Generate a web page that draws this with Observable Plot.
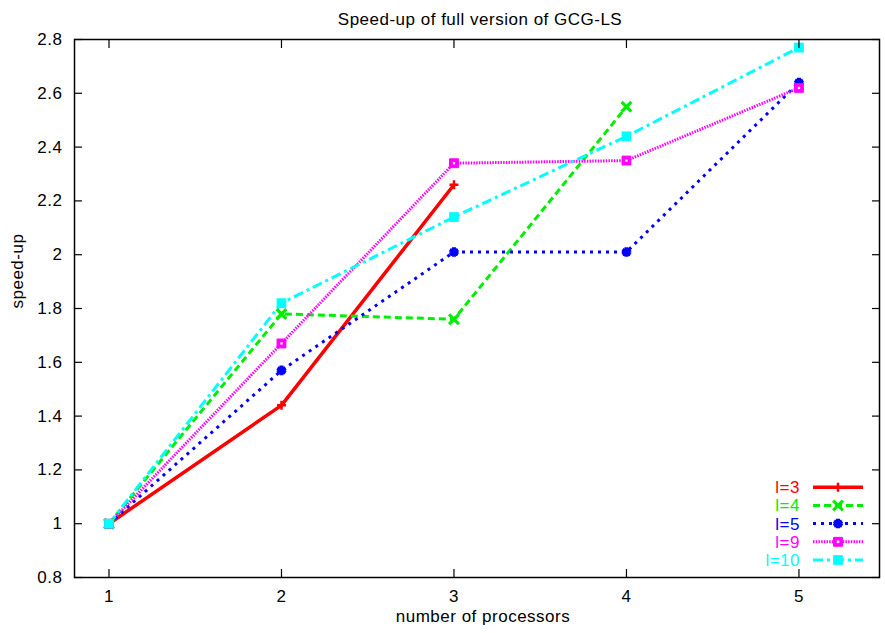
<!DOCTYPE html>
<html>
<head>
<meta charset="utf-8">
<script src="https://cdn.jsdelivr.net/npm/d3@7"></script>
<script src="https://cdn.jsdelivr.net/npm/@observablehq/plot@0.6"></script>
<style>
  html, body { margin: 0; padding: 0; background: #fff; }
  #chart svg { display: block; }
</style>
</head>
<body>
<div id="chart"></div>
<script>
// ---- Data ----
const processors = [1, 2, 3, 4, 5];
const seriesNames = ["l=3", "l=4", "l=5", "l=9", "l=10"];
const speedupL3  = [1, 1.44, 2.26];
const speedupL4  = [1, 1.78, 1.76, 2.55];
const speedupL5  = [1, 1.57, 2.01, 2.01, 2.64];
const speedupL9  = [1, 1.67, 2.34, 2.35, 2.62];
const speedupL10 = [1, 1.82, 2.14, 2.44, 2.77];
const xTicks = [1, 2, 3, 4, 5];
const yTicks = [0.8, 1, 1.2, 1.4, 1.6, 1.8, 2, 2.2, 2.4, 2.6, 2.8];
const titleText = "Speed-up of full version of GCG-LS";
const xLabel = "number of processors";
const yLabel = "speed-up";

// ---- Styles ----
const styles = [
  {color: "#ff0000", dash: null,        width: 3.5, symbol: "plus",     r: 3,   sw: 2.5},
  {color: "#00ee00", dash: "7,4",       width: 3,   symbol: "times",    r: 4.5, sw: 3.2},
  {color: "#0000ff", dash: "3,5",       width: 3,   symbol: "asterisk", r: 4.5, sw: 4},
  {color: "#ff00ff", dash: "1.5,1.2",   width: 3,   symbol: "square",   r: 5,   sw: 1},
  {color: "#00ffff", dash: "10,4,3,4",  width: 3,   symbol: "square",   r: 5.5, sw: 1}
];
const allValues = [speedupL3, speedupL4, speedupL5, speedupL9, speedupL10];

const rows = allValues.map((vals, i) =>
  vals.map((v, j) => ({series: seriesNames[i], x: processors[j], y: v})));

const font = "'Liberation Sans', Arial, Helvetica, sans-serif";

const marks = [];
rows.forEach((data, i) => {
  const s = styles[i];
  marks.push(Plot.line(data, {x: "x", y: "y", stroke: s.color, strokeWidth: s.width,
    strokeDasharray: s.dash, strokeLinejoin: "miter", strokeLinecap: "butt"}));
});
rows.forEach((data, i) => {
  const s = styles[i];
  if (i === 3) {
    marks.push(Plot.dot(data, {x: "x", y: "y", symbol: "square", r: s.r, fill: s.color, stroke: s.color, strokeWidth: 1}));
    marks.push(Plot.dot(data, {x: "x", y: "y", symbol: "square", r: 1.3, fill: "white", stroke: "none"}));
  } else if (i === 4) {
    marks.push(Plot.dot(data, {x: "x", y: "y", symbol: "square", r: s.r, fill: s.color, stroke: "none"}));
  } else {
    marks.push(Plot.dot(data, {x: "x", y: "y", symbol: s.symbol, r: s.r, stroke: s.color, strokeWidth: s.sw, fill: "none"}));
  }
});

const chart = Plot.plot({
  width: 885,
  height: 633,
  marginLeft: 74,
  marginRight: 6,
  marginTop: 39,
  marginBottom: 56,
  style: {fontFamily: font, fontSize: "17px", background: "white", color: "black", letterSpacing: "0.5px"},
  x: {domain: [0.8, 5.467], axis: null},
  y: {domain: [0.8, 2.8], axis: null},
  marks: [
    ...marks,
    Plot.frame({stroke: "black", strokeWidth: 1.5}),
    Plot.axisX(xTicks, {anchor: "bottom", tickSize: -8, tickPadding: 20, tickFormat: d => String(d), label: null, stroke: "black", strokeWidth: 1.2, fontSize: 17}),
    Plot.axisX(xTicks, {anchor: "top", tickSize: -8, tickFormat: () => "", label: null, stroke: "black", strokeWidth: 1.2}),
    Plot.axisY(yTicks, {anchor: "left", tickSize: -8, tickPadding: 20, tickFormat: d => (Math.round(d * 10) / 10).toString(), label: null, stroke: "black", strokeWidth: 1.2, fontSize: 17}),
    Plot.axisY(yTicks, {anchor: "right", tickSize: -8, tickFormat: () => "", label: null, stroke: "black", strokeWidth: 1.2}),
    Plot.text([titleText], {frameAnchor: "top", dy: -27, dx: 3, text: d => d, fontSize: 17, fill: "black"}),
    Plot.text([xLabel], {frameAnchor: "bottom", dy: 44, dx: 6, text: d => d, fontSize: 17, fill: "black"}),
    Plot.text([yLabel], {frameAnchor: "left", dx: -57, rotate: -90, text: d => d, fontSize: 17, fill: "black"})
  ]
});

document.getElementById("chart").appendChild(chart);

// ---- Legend (inside the plot, bottom-right) ----
const xr = chart.scale("x").range;   // [left, right]
const yr = chart.scale("y").range;   // [bottom, top]
const right = Math.max(...xr), bottom = Math.max(...yr);
const svg = d3.select(chart);
const lg = svg.append("g").attr("font-family", font).attr("font-size", 17).attr("letter-spacing", "0.5px");
seriesNames.forEach((name, i) => {
  const s = styles[i];
  const cy = bottom - 17 - (seriesNames.length - 1 - i) * 18.2;
  const tx = right - 79, x0 = right - 66, x1 = right - 16, xm = (x0 + x1) / 2;
  lg.append("text").attr("x", tx).attr("y", cy).attr("dy", "0.35em")
    .attr("text-anchor", "end").attr("fill", s.color).text(name);
  const ln = lg.append("line").attr("x1", x0).attr("x2", x1).attr("y1", cy).attr("y2", cy)
    .attr("stroke", s.color).attr("stroke-width", s.width);
  if (s.dash) ln.attr("stroke-dasharray", s.dash);
  const sym = {plus: d3.symbolPlus, times: d3.symbolTimes, asterisk: d3.symbolAsterisk, square: d3.symbolSquare}[s.symbol];
  const area = (s.r * s.r) * Math.PI;
  const p = lg.append("path").attr("transform", `translate(${xm},${cy})`).attr("d", d3.symbol(sym, area)());
  if (i === 3) {
    p.attr("fill", s.color).attr("stroke", s.color);
    lg.append("rect").attr("x", xm - 1.3).attr("y", cy - 1.3).attr("width", 2.6).attr("height", 2.6).attr("fill", "white");
  } else if (i === 4) {
    p.attr("fill", s.color);
  } else {
    p.attr("fill", "none").attr("stroke", s.color).attr("stroke-width", s.sw);
  }
});
</script>
</body>
</html>
